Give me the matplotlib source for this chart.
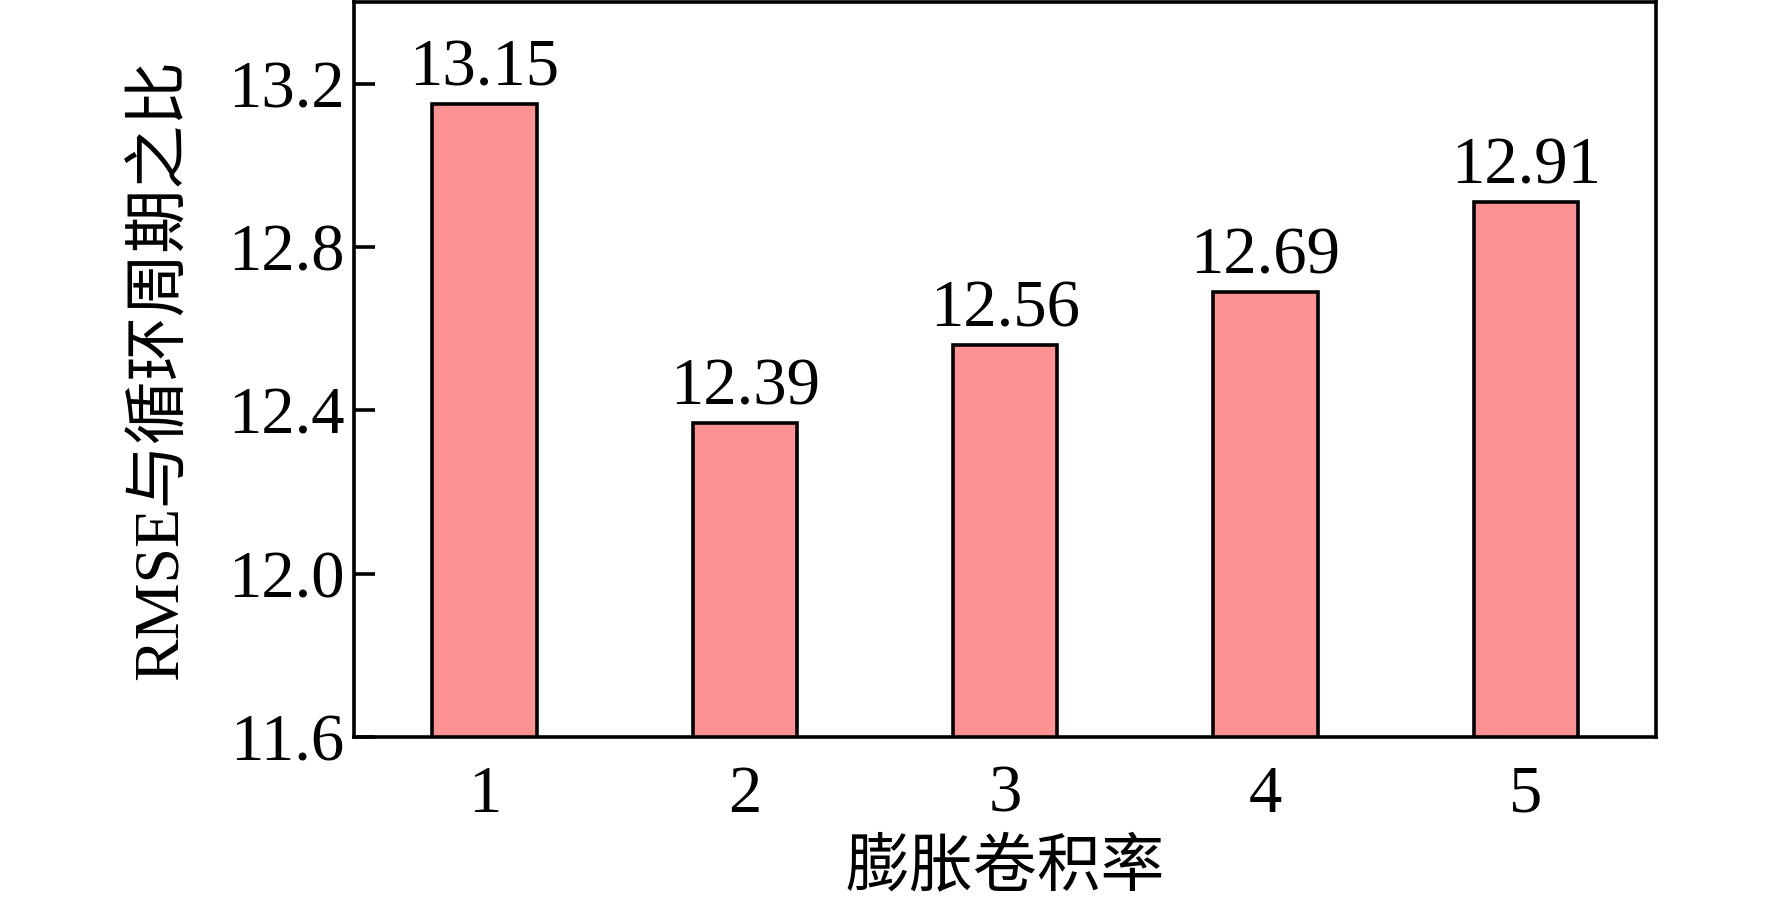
import matplotlib
matplotlib.use("Agg")
import matplotlib.pyplot as plt

# Values
rates = [1, 2, 3, 4, 5]
ratios = [13.15, 12.37, 12.56, 12.69, 12.91]
value_labels = ["13.15", "12.39", "12.56", "12.69", "12.91"]
y_ticks = [11.6, 12.0, 12.4, 12.8, 13.2]

plt.rcParams["font.family"] = ["Liberation Serif", "Noto Sans CJK SC"]
plt.rcParams["font.size"] = 48

fig = plt.figure(figsize=(17.72, 9.11), dpi=100)
ax = fig.add_axes([0.200, 0.191, 0.7345, 0.807])

bars = ax.bar(rates, ratios, width=0.4, bottom=0, color="#FD9292",
              edgecolor="black", linewidth=2.6)

for rect, lab in zip(bars, value_labels):
    ax.annotate(lab, (rect.get_x() + rect.get_width() / 2, rect.get_height()),
                xytext=(0, 3), textcoords="offset points",
                ha="center", va="bottom", fontsize=48)

ax.set_xlim(0.5, 5.5)
ax.set_ylim(11.6, 13.4)
ax.set_xticks(rates)
ax.set_yticks(y_ticks)
ax.set_yticklabels([f"{v:.1f}" for v in y_ticks])
ax.tick_params(axis="y", direction="in", length=15, width=2.6, pad=7)
ax.tick_params(axis="x", length=0, pad=20)
for s in ax.spines.values():
    s.set_linewidth(2.6)

ax.set_xlabel("膨胀卷积率", fontsize=46, labelpad=10)
ax.set_ylabel("RMSE与循环周期之比", fontsize=46, labelpad=26)

fig.savefig("out.png", dpi=100)
